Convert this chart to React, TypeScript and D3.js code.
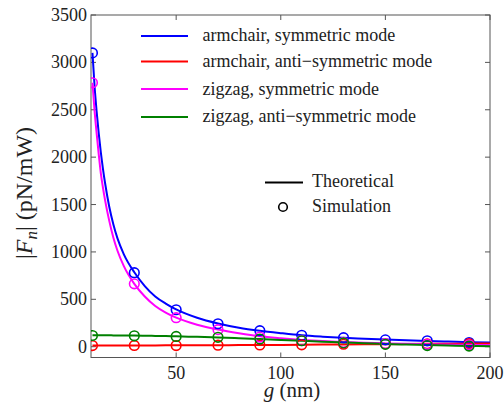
import React from "react";
import * as d3 from "d3";

const W = 504, H = 406;
const M = { left: 91, right: 490, top: 15, bottom: 357.5 };

const seriesNames = [
  "armchair, symmetric mode",
  "armchair, anti\u2212symmetric mode",
  "zigzag, symmetric mode",
  "zigzag, anti\u2212symmetric mode",
];
const seriesColors = ["#0000ff", "#ff0000", "#ff00ff", "#008000"];

// Simulation points
const simG = [10, 30, 50, 70, 90, 110, 130, 150, 170, 190];
const simArmSym = [3100, 781, 390, 242, 169, 120, 95, 72, 62, 44];
const simArmAnti = [12, 13, 12, 16, 18, 20, 26, 30, 30, 32];
const simZigSym = [2785, 663, 306, 180, 102, 65, 45, 32, 25, 20];
const simZigAnti = [118, 115, 108, 99, 80, 63, 40, 25, 12, 7];

// Theoretical curves
const thG = [10, 11, 12, 13, 14, 15, 16, 18, 20, 22, 25, 30, 35, 40, 45, 50, 60, 70, 80, 90, 100, 110, 120, 130, 140, 150, 160, 170, 180, 190, 200];
const thArmSym = [3100, 2750, 2480, 2250, 2050, 1880, 1730, 1480, 1290, 1140, 975, 785, 640, 530, 455, 393, 305, 245, 200, 168, 143, 121, 106, 94, 84, 75, 67, 60, 54, 48, 44];
const thArmAnti = [12, 12, 12, 12, 12, 12, 12, 12, 12, 12, 12, 12, 13, 13, 14, 14, 15, 16, 17, 18, 19, 20, 22, 24, 26, 27, 29, 30, 31, 32, 33];
const thZigSym = [2785, 2490, 2250, 2030, 1830, 1680, 1550, 1330, 1150, 1010, 850, 663, 530, 430, 360, 306, 232, 181, 142, 110, 89, 72, 59, 49, 41, 35, 30, 26, 23, 20, 18];
const thZigAnti = [120, 120, 120, 120, 120, 120, 120, 120, 119, 119, 118, 117, 116, 114, 112, 109, 104, 97, 89, 80, 71, 62, 53, 44, 37, 29, 23, 17, 12, 8, 5];

const xTicks = [50, 100, 150, 200];
const yTicks = [0, 500, 1000, 1500, 2000, 2500, 3000, 3500];

const simSeries = [simArmSym, simArmAnti, simZigSym, simZigAnti];
const thSeries = [thArmSym, thArmAnti, thZigSym, thZigAnti];

export default function App() {
  const x = d3.scaleLinear().domain([9.3, 200]).range([M.left, M.right]);
  const y = d3.scaleLinear().domain([-114, 3500]).range([M.bottom, M.top]);
  const line = d3
    .line<number>()
    .x((_, i) => x(thG[i]))
    .y((d) => y(d))
    .curve(d3.curveMonotoneX);
  const font = "'Liberation Serif', 'Times New Roman', serif";
  const axisColor = "#555";
  const tl = 5;
  const legendLineY = [36, 61.5, 89, 117];
  const legendTextY = [41, 67, 94.5, 121.5];
  return (
    <svg
      width={W}
      height={H}
      style={{ position: "absolute", left: 0, top: 0, background: "#fff" }}
      fontFamily={font}
    >
      <defs>
        <clipPath id="plot">
          <rect x={M.left} y={M.top} width={M.right - M.left} height={M.bottom - M.top} />
        </clipPath>
      </defs>
      <rect
        x={M.left}
        y={M.top}
        width={M.right - M.left}
        height={M.bottom - M.top}
        fill="none"
        stroke={axisColor}
        strokeWidth={1}
      />
      {xTicks.map((t) => (
        <g key={"xt" + t}>
          <line x1={x(t)} x2={x(t)} y1={M.bottom} y2={M.bottom - tl} stroke={axisColor} />
          <line x1={x(t)} x2={x(t)} y1={M.top} y2={M.top + tl} stroke={axisColor} />
          <text x={x(t)} y={378.5} textAnchor="middle" fontSize={18} fill="#222">
            {t}
          </text>
        </g>
      ))}
      {yTicks.map((t) => (
        <g key={"yt" + t}>
          <line x1={M.left} x2={M.left + tl} y1={y(t)} y2={y(t)} stroke={axisColor} />
          <line x1={M.right} x2={M.right - tl} y1={y(t)} y2={y(t)} stroke={axisColor} />
          <text x={87} y={y(t) + 6} textAnchor="end" fontSize={18} fill="#222">
            {t}
          </text>
        </g>
      ))}
      <text x={292} y={397} textAnchor="middle" fontSize={21} fill="#222">
        <tspan fontStyle="italic">g</tspan>
        <tspan> (nm)</tspan>
      </text>
      <text
        transform={`translate(32,193) rotate(-90)`}
        textAnchor="middle"
        fontSize={24}
        fill="#222"
      >
        <tspan>|</tspan>
        <tspan fontStyle="italic">F</tspan>
        <tspan fontStyle="italic" fontSize={17} dy={5}>n</tspan>
        <tspan dy={-5}>| (pN/mW)</tspan>
      </text>
      <g clipPath="url(#plot)">
        {thSeries.map((s, k) => (
          <path key={"l" + k} d={line(s) || ""} fill="none" stroke={seriesColors[k]} strokeWidth={2} />
        ))}
        {simSeries.map((s, k) =>
          s.map((v, i) => (
            <circle
              key={"c" + k + "-" + i}
              cx={x(simG[i])}
              cy={y(v)}
              r={4.8}
              fill="none"
              stroke={seriesColors[k]}
              strokeWidth={1.6}
            />
          ))
        )}
      </g>
      {seriesNames.map((n, k) => (
        <g key={"lg" + k}>
          <line x1={141} x2={188} y1={legendLineY[k]} y2={legendLineY[k]} stroke={seriesColors[k]} strokeWidth={2} />
          <text x={202.5} y={legendTextY[k]} fontSize={18} fill="#222">
            {n}
          </text>
        </g>
      ))}
      <line x1={265} x2={303} y1={182.5} y2={182.5} stroke="#000" strokeWidth={2} />
      <text x={312} y={186.5} fontSize={18} fill="#222">Theoretical</text>
      <circle cx={283} cy={207} r={4.3} fill="none" stroke="#000" strokeWidth={1.6} />
      <text x={312} y={211.5} fontSize={18} fill="#222">Simulation</text>
    </svg>
  );
}
